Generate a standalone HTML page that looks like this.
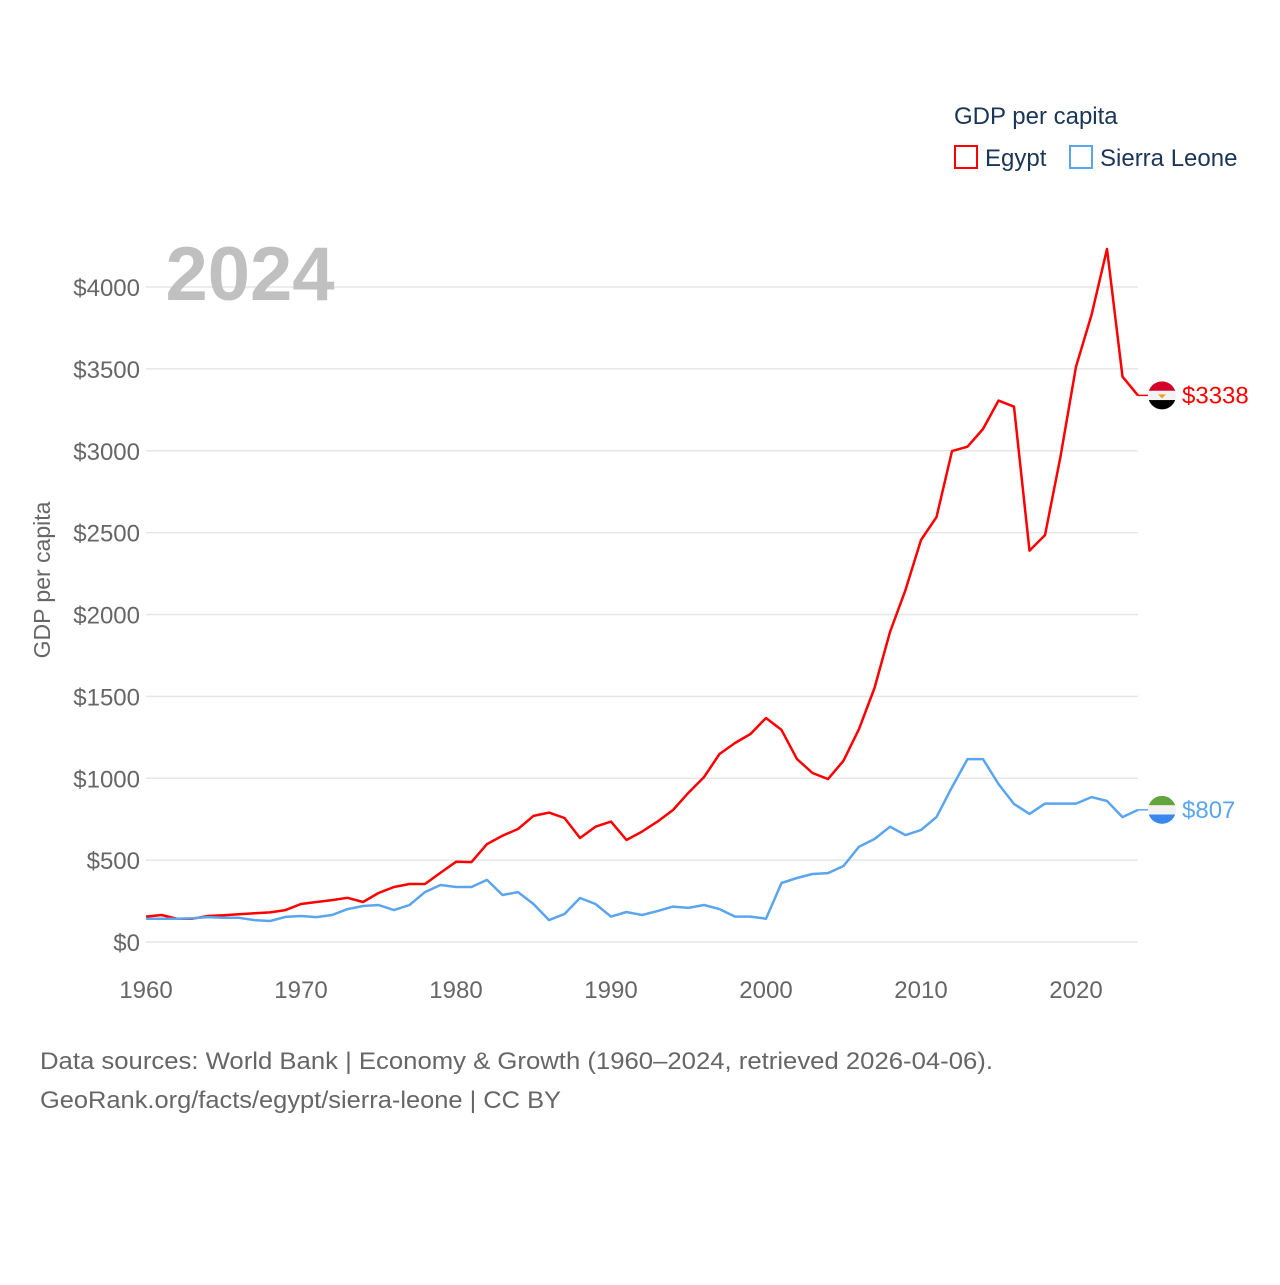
<!DOCTYPE html>
<html><head><meta charset="utf-8"><style>
body{margin:0;background:#fff;}
svg text{font-family:"Liberation Sans",sans-serif;}
</style></head><body>
<svg width="1280" height="1280" viewBox="0 0 1280 1280" xmlns="http://www.w3.org/2000/svg">
<rect width="1280" height="1280" fill="#fff"/>
<g id="grid"></g>
<g id="yticks"></g>
<g id="xticks"></g>
<text x="250" y="300" font-size="76" font-weight="bold" fill="#c0c0c0" text-anchor="middle">2024</text>
<text transform="translate(50,580) rotate(-90)" font-size="23" fill="#666" text-anchor="middle">GDP per capita</text>
<text x="954" y="124" font-size="24" fill="#1b3556">GDP per capita</text>
<g>
<rect x="955" y="146" width="22" height="22" fill="none" stroke="#ff0000" stroke-width="2"/>
<text x="985" y="166" font-size="24" fill="#1b3556">Egypt</text></g>
<g>
<rect x="1070" y="146" width="22" height="22" fill="none" stroke="#5aa5ee" stroke-width="2"/>
<text x="1100" y="166" font-size="24" fill="#1b3556">Sierra Leone</text></g>
<g id="series"></g>
<text x="40" y="1069" font-size="24" fill="#666" textLength="953" lengthAdjust="spacingAndGlyphs">Data sources: World Bank | Economy &amp; Growth (1960–2024, retrieved 2026-04-06).</text>
<text x="40" y="1108" font-size="24" fill="#666" textLength="521" lengthAdjust="spacingAndGlyphs">GeoRank.org/facts/egypt/sierra-leone | CC BY</text>
</svg>
<script>
const years=[];for(let y=1960;y<=2024;y++)years.push(y);
const egypt=[155,165,142,142,159,163,170,176,181,195,232,244,256,270,244,299,336,354,354,423,490,488,598,649,690,770,790,757,635,704,735,623,674,735,806,912,1007,1148,1215,1270,1368,1295,1117,1032,995,1107,1300,1551,1893,2150,2455,2595,2998,3025,3133,3306,3269,2390,2485,2964,3513,3829,4232,3452,3338];
const sierra=[142,142,142,145,152,148,148,134,128,153,159,152,165,201,220,226,195,226,305,348,336,336,379,287,305,232,134,171,269,232,155,183,165,189,216,208,226,201,155,155,142,360,391,415,421,464,582,629,704,653,684,763,946,1117,1117,965,843,782,845,845,845,885,861,763,807];
const yTicks=[0,500,1000,1500,2000,2500,3000,3500,4000];
const xTicks=[1960,1970,1980,1990,2000,2010,2020];
const NS="http://www.w3.org/2000/svg";
const X=y=>146+(y-1960)*15.5;
const Y=v=>942-v*0.16375;
function mk(tag,attrs,parent,text){const e=document.createElementNS(NS,tag);for(const k in attrs)e.setAttribute(k,attrs[k]);if(text!==undefined)e.textContent=text;parent.appendChild(e);return e;}
const grid=document.getElementById('grid'),yt=document.getElementById('yticks'),xt=document.getElementById('xticks'),ser=document.getElementById('series');
yTicks.forEach(v=>{
 const l=mk('line',{x1:146,x2:1138,y1:Y(v),y2:Y(v),stroke:'#e6e6e6','stroke-width':1.5},grid);
 
 
 const t=mk('text',{x:140,y:Y(v)+9,'font-size':24,fill:'#666','text-anchor':'end'},yt,'$'+v);
 
 
});
xTicks.forEach(v=>{
 const t=mk('text',{x:X(v),y:998,'font-size':24,fill:'#666','text-anchor':'middle'},xt,String(v));
 
 
});
function line(data,color,name){
 const d=data.map((v,i)=>(i?'L':'M')+X(years[i]).toFixed(1)+','+Y(v).toFixed(1)).join(' ');
 const p=mk('path',{d:d,fill:'none',stroke:color,'stroke-width':2.5,'stroke-linejoin':'round'},ser);
 
 
}
line(egypt,'#ff0000','egypt-line');
line(sierra,'#5aa5ee','sierra-leone-line');
function endLabel(data,color,name,flag){
 const v=data[data.length-1],x=X(2024),y=Y(v);
 const g=mk('g',{},ser);
 
 
 mk('line',{x1:x,x2:x+10,y1:y,y2:y,stroke:color,'stroke-width':1.5},g);
 const cx=x+24,r=14;
 const cp=mk('clipPath',{id:'c'+name},g);mk('circle',{cx:cx,cy:y,r:r},cp);
 const fg=mk('g',{'clip-path':'url(#c'+name+')'},g);
 flag.forEach((c,i)=>mk('rect',{x:cx-r,y:y-r+i*2*r/3,width:2*r,height:2*r/3+0.5,fill:c},fg));
 if(name==='egypt-end-label')mk('path',{d:`M${cx-4},${y-1} L${cx+4},${y-1} L${cx},${y+3} Z`,fill:'#f0a020'},fg);
 mk('text',{x:x+44,y:y+8,'font-size':24,fill:color},g,'$'+v);
}
endLabel(egypt,'#ff0000','egypt-end-label',['#d4002a','#f2f2f2','#000']);
endLabel(sierra,'#5aa5ee','sierra-leone-end-label',['#62a53e','#f2f2f2','#3a87f0']);
</script>
</body></html>
